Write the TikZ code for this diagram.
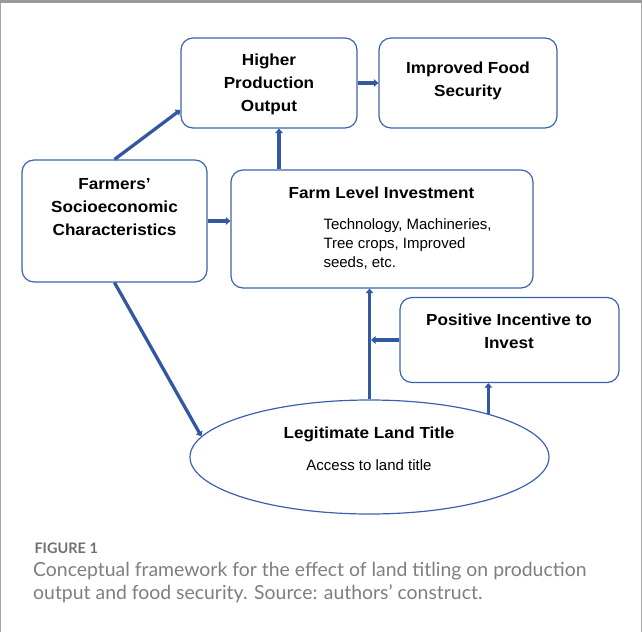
\documentclass[tikz,border=0pt]{standalone}
\usepackage{fontspec}
\setmainfont{Liberation Sans}
\newfontfamily\headfont{Liberation Sans}[FakeStretch=1.07]
\newfontfamily\capfont{Lato}
\usetikzlibrary{arrows.meta,shapes.geometric}
\definecolor{frameblue}{RGB}{58,98,172}
\definecolor{arrowblue}{RGB}{50,88,162}
\definecolor{capgray}{RGB}{112,112,112}
\tikzset{
  box/.style={draw=frameblue, line width=1.2pt, rounded corners=12pt, inner sep=0pt},
  head/.style={font=\headfont\fontsize{16}{23}\selectfont\bfseries, align=center},
  body/.style={font=\fontsize{15}{19}\selectfont, align=left},
  flow/.style={draw=arrowblue, line width=3.3pt, -{Triangle[length=4.5pt,width=7.5pt]}},
}
\begin{document}
\begin{tikzpicture}[x=1pt,y=-1pt]
  \useasboundingbox (0,0) rectangle (642,632);
  % Frame
  \draw[gray!70, line width=1pt] (0.5,632) -- (0.5,1.5) -- (641.5,1.5) -- (641.5,632);
  \draw[gray!80, line width=3pt] (0,1.5) -- (642,1.5);
  % Boxes
  \node[box, minimum width=176pt, minimum height=90pt] (higher) at (269,83) {};
  \node[box, minimum width=178pt, minimum height=90pt] (improved) at (468,83) {};
  \node[box, minimum width=185pt, minimum height=122pt] (farmers) at (114.5,221) {};
  \node[box, minimum width=302pt, minimum height=118pt] (farm) at (382,229) {};
  \node[box, minimum width=219pt, minimum height=85pt] (pos) at (509.5,340) {};
  \node[draw=frameblue, line width=1.2pt, ellipse, minimum width=359pt, minimum height=114pt, inner sep=0pt] (title) at (369.5,457) {};
  % Labels
  \node[head] (higherlbl) at (269,84) {Higher\\Production\\Output};
  \node[head] (improvedlbl) at (468,81) {Improved Food\\Security};
  \node[head] (farmerslbl) at (114.5,207) {Farmers’\\Socioeconomic\\Characteristics};
  \node[head] (farmlbl) at (381.5,193) {Farm Level Investment};
  \node[body, anchor=west] (farmtxt) at (320,244) {Technology, Machineries,\\Tree crops, Improved\\seeds, etc.};
  \node[head] (poslbl) at (509,331) {Positive Incentive to\\Invest};
  \node[head] (titlelbl) at (369,434) {Legitimate Land Title};
  \node[body] (titletxt) at (369,465) {Access to land title};
  % Connectors
  \draw[flow] (higher.east) -- (improved.west);
  \draw[flow] (farmers.north) -- (higher.west |- 0,110);
  \draw[flow] (279,0 |- farm.north) -- (279,0 |- higher.south);
  \draw[flow] (farmers.east) -- (farmers.east -| farm.west);
  \draw[flow] (farmers.south) -- (title.173);
  \draw[flow] (title.north) -- (title.north |- farm.south);
  \coordinate (joint) at (pos.west -| title.north);
  \draw[flow, shorten >=1.5pt] (pos.west) -- (joint);
  \draw[flow] (title.20) -- (title.20 |- pos.south);
  % Caption
  \node[anchor=west, text=capgray, font=\capfont\bfseries\fontsize{14.5}{16}\selectfont] (fig) at (31,548) {FIGURE 1};
  \node[anchor=north west, text=capgray!90, align=left, inner sep=0pt,
        font=\capfont\fontsize{19.4}{23}\selectfont] (cap) at (33,562)
        {Conceptual framework for the effect of land titling on production\\output and food security. Source: authors’ construct.};
\end{tikzpicture}
\end{document}
